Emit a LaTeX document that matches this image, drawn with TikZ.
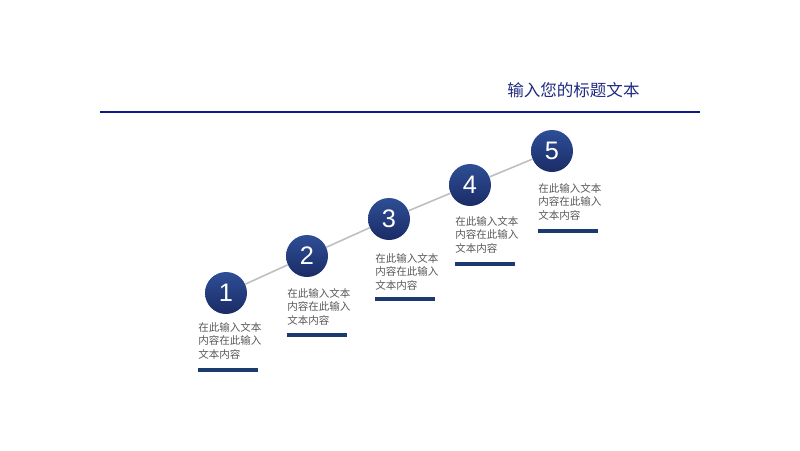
\documentclass[tikz,border=0pt]{standalone}
\usepackage{fontspec}
\setmainfont{Liberation Sans}
\newfontfamily\cjk{Noto Sans CJK SC}
\definecolor{navy}{HTML}{1F2A80}
\definecolor{rule}{HTML}{0D1A8A}
\definecolor{ctop}{HTML}{2F4E96}
\definecolor{cbot}{HTML}{1A2C66}
\definecolor{bar}{HTML}{1B3A6E}
\definecolor{txt}{HTML}{595959}
\definecolor{link}{HTML}{BFBFBF}
\tikzset{
  stepcirc/.style={circle, minimum size=31.5pt, inner sep=0pt, top color=ctop, bottom color=cbot, draw=none, text=white, font=\fontsize{19}{19}\selectfont},
  desc/.style={anchor=north west, inner sep=0pt, align=left, text=txt, font=\cjk\fontsize{7.9}{9.9}\selectfont},
  barline/.style={draw=bar, line width=3pt},
  linkline/.style={draw=link, line width=1.2pt}
}
\begin{document}
\begin{tikzpicture}[x=0.75pt,y=-0.75pt]
\useasboundingbox (0,0) rectangle (800,450);
\node[anchor=west, inner sep=0pt, text=navy, font=\cjk\fontsize{12.4}{14}\selectfont] (title) at (507,90) {输入您的标题文本};
\coordinate (r1) at (100,112);
\coordinate (r2) at (700,112);
\draw[draw=rule, line width=2pt] (r1) -- (r2);
\node[stepcirc] (c1) at (226,293) {1};
\node[stepcirc] (c2) at (307,256) {2};
\node[stepcirc] (c3) at (389,219) {3};
\node[stepcirc] (c4) at (470,185) {4};
\node[stepcirc] (c5) at (552,151) {5};
\draw[linkline] (c1) -- (c2);
\draw[linkline] (c2) -- (c3);
\draw[linkline] (c3) -- (c4);
\draw[linkline] (c4) -- (c5);
\node[desc] (t1) at (198,322.5) {在此输入文本\\内容在此输入\\文本内容};
\node[desc] (t2) at (287,288.5) {在此输入文本\\内容在此输入\\文本内容};
\node[desc] (t3) at (375,253.5) {在此输入文本\\内容在此输入\\文本内容};
\node[desc] (t4) at (455,216.5) {在此输入文本\\内容在此输入\\文本内容};
\node[desc] (t5) at (538,183.5) {在此输入文本\\内容在此输入\\文本内容};
\coordinate (b1a) at (198,370); \coordinate (b1b) at (258,370);
\coordinate (b2a) at (287,335); \coordinate (b2b) at (347,335);
\coordinate (b3a) at (375,299); \coordinate (b3b) at (435,299);
\coordinate (b4a) at (455,264); \coordinate (b4b) at (515,264);
\coordinate (b5a) at (538,231); \coordinate (b5b) at (598,231);
\draw[barline] (b1a) -- (b1b);
\draw[barline] (b2a) -- (b2b);
\draw[barline] (b3a) -- (b3b);
\draw[barline] (b4a) -- (b4b);
\draw[barline] (b5a) -- (b5b);
\end{tikzpicture}
\end{document}
